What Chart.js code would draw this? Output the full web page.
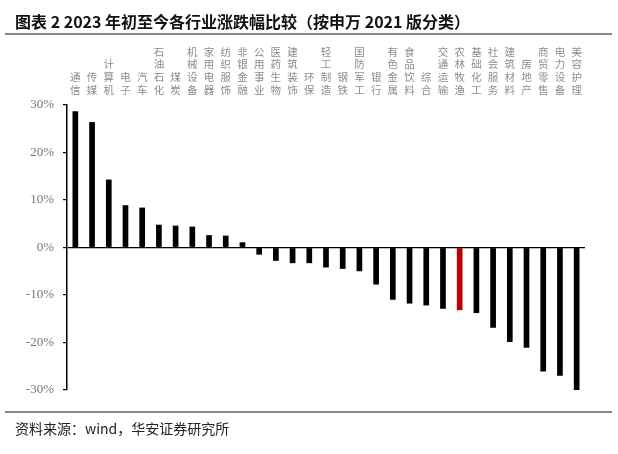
<!DOCTYPE html>
<html>
<head>
<meta charset="utf-8">
<script src="https://cdn.jsdelivr.net/npm/chart.js@4"></script>
<style>
    body { margin: 0; background: #fff; }
    #wrap { position: relative; width: 618px; height: 454px; overflow: hidden; }
    #chart { position: absolute; left: 0; top: 0; }
    .title { position: absolute; left: 15px; top: 9px; font: bold 16px "Noto Sans CJK SC", "Liberation Sans", sans-serif; color: #111; white-space: nowrap; }
    .rule { position: absolute; left: 5px; width: 607px; height: 2px; background: #888; }
    .source { position: absolute; left: 15px; top: 418px; font: 14px "Noto Sans CJK SC", "Liberation Sans", sans-serif; color: #222; white-space: nowrap; }
</style>
</head>
<body>
<div id="wrap">
    <canvas id="chart" width="618" height="454"></canvas>
    <div class="title">图表 2 2023 年初至今各行业涨跌幅比较（按申万 2021 版分类）</div>
    <div class="rule" style="top:33px"></div>
    <div class="rule" style="top:411px"></div>
    <div class="source">资料来源：wind，华安证券研究所</div>
</div>
<script>
// 申万一级行业（2021版）
const industries = ['通信', '传媒', '计算机', '电子', '汽车', '石油石化', '煤炭', '机械设备', '家用电器', '纺织服饰',
    '非银金融', '公用事业', '医药生物', '建筑装饰', '环保', '轻工制造', '钢铁', '国防军工', '银行', '有色金属',
    '食品饮料', '综合', '交通运输', '农林牧渔', '基础化工', '社会服务', '建筑材料', '房地产', '商贸零售', '电力设备', '美容护理'];

// 2023年初至今涨跌幅 (%)
const changePct = [28.7, 26.4, 14.3, 8.9, 8.4, 4.8, 4.6, 4.4, 2.6, 2.5,
    1.1, -1.5, -2.8, -3.3, -3.3, -4.2, -4.5, -5.0, -7.8, -11.0,
    -11.8, -12.2, -12.9, -13.2, -13.8, -16.9, -19.9, -21.1, -26.1, -27.0, -30.0];

const highlight = '农林牧渔';
const yTicks = [-30, -20, -10, 0, 10, 20, 30];

// vertical labels: one character per line
const verticalLabels = industries.map(name => name.split(''));
const barColors = industries.map(name => name === highlight ? '#c00000' : '#000000');

const ctx = document.getElementById('chart').getContext('2d');
new Chart(ctx, {
    type: 'bar',
    data: {
        labels: verticalLabels,
        datasets: [{
            data: changePct,
            backgroundColor: barColors,
            borderWidth: 0,
            categoryPercentage: 1,
            barPercentage: 0.34
        }]
    },
    options: {
        responsive: false,
        animation: false,
        layout: { padding: { top: 0, left: 0, right: 33, bottom: 64 } },
        plugins: {
            legend: { display: false },
            tooltip: { enabled: false }
        },
        scales: {
            x: {
                position: 'top',
                grid: { display: false, drawTicks: false },
                border: { display: false },
                ticks: {
                    autoSkip: false,
                    maxRotation: 0,
                    minRotation: 0,
                    padding: 9,
                    color: '#8c8c8c',
                    font: { family: '"Noto Sans CJK SC", sans-serif', size: 10.5, lineHeight: 1.2 }
                },
                afterFit: s => { s.height = 105; }
            },
            y: {
                min: -30,
                max: 30,
                afterBuildTicks: s => { s.ticks = yTicks.map(v => ({ value: v })); },
                grid: {
                    color: c => (c.tick && c.tick.value === 0) ? '#000' : 'rgba(0,0,0,0)',
                    lineWidth: 1.2,
                    tickColor: '#000',
                    tickLength: 4
                },
                border: { display: true, color: '#000', width: 1.5 },
                ticks: {
                    padding: 9,
                    color: '#777',
                    font: { family: '"Liberation Serif", serif', size: 13 },
                    callback: v => v + '%'
                },
                afterFit: s => { s.width = 67; }
            }
        }
    }
});
</script>
</body>
</html>
